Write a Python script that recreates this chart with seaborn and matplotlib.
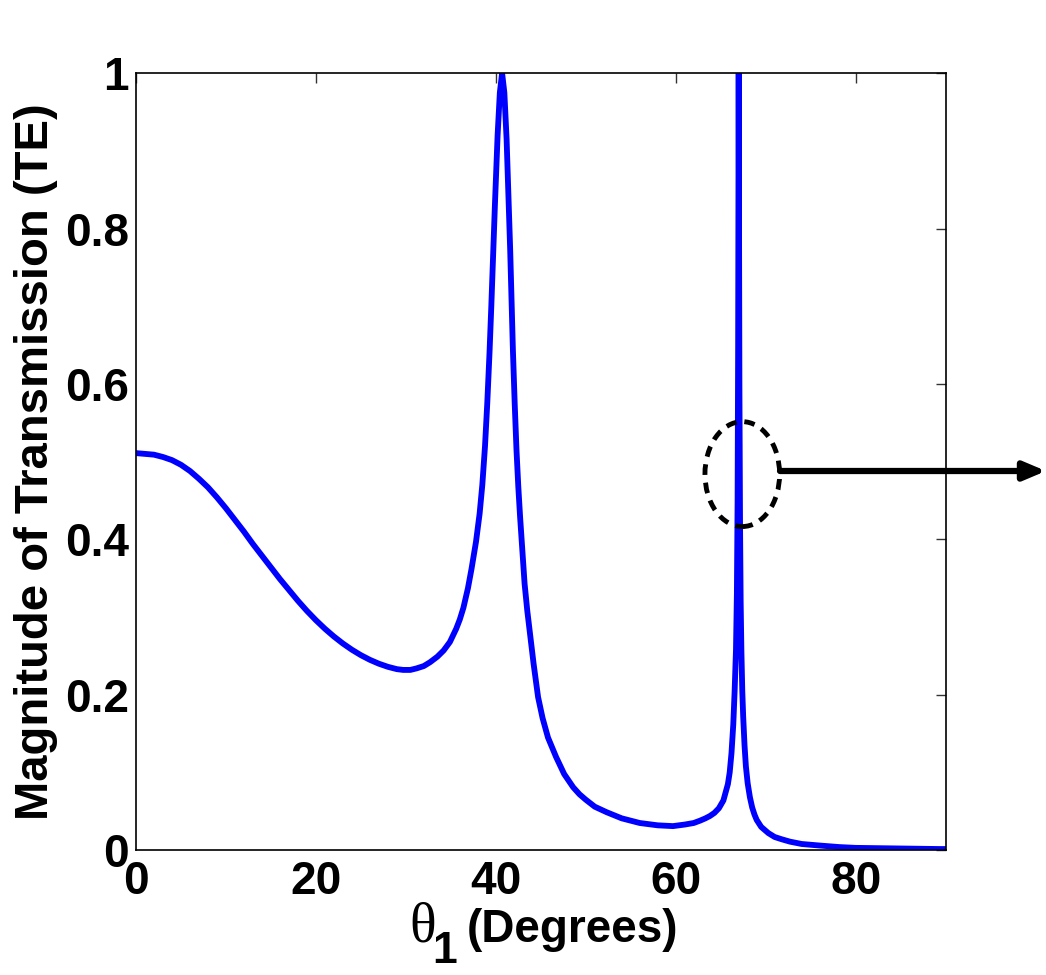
import numpy as np
import pandas as pd
import matplotlib
matplotlib.use("Agg")
import matplotlib.pyplot as plt
from matplotlib.patches import Ellipse
import seaborn as sns

# ---- data ----
theta_deg = [0, 1, 2, 3, 4, 5, 6, 7, 8, 9, 10, 11, 12, 13, 14, 15, 16, 17, 18, 19,
             20, 21, 22, 23, 24, 25, 26, 27, 28, 29, 29.7, 30.5, 31.2, 32, 32.7,
             33.5, 34.2, 34.9, 35.6, 36.0, 36.4, 36.9, 37.3, 37.8, 38.2, 38.5,
             38.8, 39.05, 39.3, 39.5, 39.7, 39.9, 40.2, 40.45, 40.7, 40.95, 41.2,
             41.4, 41.6, 41.75, 41.9, 42.1, 42.3, 42.5, 42.7, 42.95, 43.2, 43.5,
             43.8, 44.2, 44.7, 45.2, 45.8, 46.7, 47.6, 48.6, 49.3, 50, 51, 52.3,
             54, 56, 58, 59.7, 61, 62, 62.7, 63.3, 63.8, 64.3, 64.8, 65.3, 65.8,
             66.0, 66.2, 66.4, 66.55, 66.7, 66.8, 66.88, 66.94, 66.98, 67.0, 67.03,
             67.08, 67.15, 67.22, 67.3, 67.4, 67.5, 67.65, 67.8, 68.0, 68.25, 68.5,
             68.75, 69.0, 69.5, 70.3, 71.0, 71.8, 72.7, 74, 76, 78.2, 80, 83, 86,
             89.3, 90]
transmission_te = [0.511, 0.510, 0.509, 0.506, 0.502, 0.496, 0.488, 0.478, 0.467,
                   0.454, 0.440, 0.425, 0.410, 0.394, 0.379, 0.364, 0.349, 0.335,
                   0.321, 0.308, 0.296, 0.285, 0.275, 0.266, 0.258, 0.251, 0.245,
                   0.240, 0.236, 0.233, 0.232, 0.232, 0.234, 0.237, 0.242, 0.249,
                   0.257, 0.268, 0.285, 0.297, 0.312, 0.337, 0.362, 0.397, 0.433,
                   0.470, 0.520, 0.575, 0.640, 0.700, 0.765, 0.830, 0.920, 0.975,
                   1.000, 0.975, 0.915, 0.845, 0.772, 0.710, 0.644, 0.575, 0.515,
                   0.468, 0.429, 0.385, 0.343, 0.308, 0.279, 0.240, 0.197, 0.170,
                   0.145, 0.120, 0.098, 0.081, 0.072, 0.065, 0.056, 0.049, 0.041,
                   0.035, 0.032, 0.031, 0.033, 0.035, 0.038, 0.041, 0.044, 0.048,
                   0.054, 0.064, 0.085, 0.100, 0.125, 0.162, 0.205, 0.258, 0.330,
                   0.450, 0.650, 0.850, 1.000, 0.850, 0.600, 0.420, 0.320, 0.257,
                   0.205, 0.172, 0.135, 0.108, 0.086, 0.068, 0.055, 0.046, 0.039,
                   0.030, 0.022, 0.017, 0.014, 0.011, 0.008, 0.006, 0.004, 0.003,
                   0.0025, 0.002, 0.0015, 0.0015]
x_ticks = [0, 20, 40, 60, 80]
y_ticks = [0, 0.2, 0.4, 0.6, 0.8, 1]
y_tick_labels = ["0", "0.2", "0.4", "0.6", "0.8", "1"]
ylabel_text = "Magnitude of Transmission (TE)"
xlabel_symbol = "θ"
xlabel_sub = "1"
xlabel_text = "(Degrees)"

# ---- style ----
sns.set_style("white")
plt.rcParams["font.family"] = ["Liberation Sans", "DejaVu Sans"]
plt.rcParams["font.weight"] = "bold"
plt.rcParams["text.color"] = "black"
plt.rcParams["axes.labelcolor"] = "black"
plt.rcParams["xtick.color"] = "black"
plt.rcParams["ytick.color"] = "black"

fig = plt.figure(figsize=(10.46, 9.75), dpi=100)
ax = fig.add_axes([0.130, 0.128, 0.774, 0.797])

df = pd.DataFrame({"theta": theta_deg, "T": transmission_te})
sns.lineplot(data=df, x="theta", y="T", ax=ax, color="#0000ff", linewidth=4.2,
             sort=False, estimator=None)

ax.set_xlim(0, 90)
ax.set_ylim(0, 1)
ax.set_xticks(x_ticks)
ax.set_xticklabels([str(t) for t in x_ticks])
ax.set_yticks(y_ticks)
ax.set_yticklabels(y_tick_labels)
ax.tick_params(axis="both", direction="in", length=7, width=1, color="#333333",
               labelcolor="black", labelsize=33, top=True, right=True)
ax.tick_params(axis="x", pad=7)
ax.tick_params(axis="y", pad=5)
for lbl in ax.get_xticklabels() + ax.get_yticklabels():
    lbl.set_fontweight("bold")
for sp in ax.spines.values():
    sp.set_visible(True)
    sp.set_color("black")
    sp.set_linewidth(1.2)

ax.set_xlabel("")
ax.set_ylabel(ylabel_text, fontsize=34, fontweight="bold", labelpad=5, color="black")

# x label built from pieces: serif theta, bold subscript, bold text
fig.text(423 / 1046, (975 - 942) / 975, xlabel_symbol,
         family=["Liberation Serif", "DejaVu Serif"], fontsize=40,
         fontweight="normal", ha="center", va="baseline")
fig.text(445 / 1046, (975 - 963) / 975, xlabel_sub, fontsize=32, fontweight="bold",
         ha="center", va="baseline")
fig.text(467 / 1046, (975 - 942) / 975, xlabel_text, fontsize=33, fontweight="bold",
         ha="left", va="baseline")

# dashed ellipse around the sharp peak
ell = Ellipse((67.4, 0.484), width=8.3, height=0.135, fill=False, edgecolor="black",
              linestyle=(0, (2.2, 1.6)), linewidth=3.5, zorder=5, clip_on=False)
ax.add_patch(ell)

# arrow leaving the plot to the right
ax.annotate("", xy=(1.0, (975 - 471) / 975), xycoords="figure fraction",
            xytext=(780 / 1046, (975 - 471) / 975), textcoords="figure fraction",
            arrowprops=dict(arrowstyle="-|>,head_length=1.3,head_width=0.55",
                            color="black", lw=4.5, shrinkA=0, shrinkB=0),
            annotation_clip=False)

fig.savefig("out.png", dpi=100)
